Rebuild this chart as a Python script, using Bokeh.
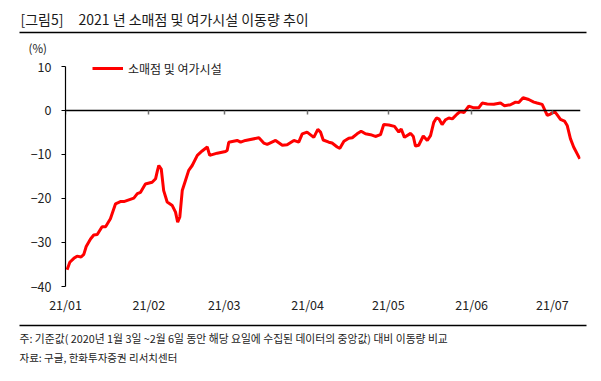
from bokeh.plotting import figure
from bokeh.models import FixedTicker, LinearAxis, Range1d
from bokeh.layouts import column
from bokeh.core.properties import value
from bokeh.embed import file_html
from bokeh.resources import INLINE

# Days since 2021-01-01 and mobility change vs baseline (%)
days = [0.6, 1.6, 3.1, 4.3, 5.8, 6.8, 7.7, 9.3, 10.5, 11.8, 13.6, 14.9, 16.7, 18.6, 20.4,
        21.7, 25.4, 26.7, 27.9, 29.7, 32.2, 33.5, 34.2, 34.7, 35.6, 36.5, 37.8, 39.7, 40.9,
        41.7, 42.5, 43.4, 44.6, 45.8, 47.1, 49.0, 50.8, 52.7, 53.6, 56.4, 59.5, 60.1, 60.7,
        63.8, 65.1, 66.9, 71.9, 73.7, 75.0, 78.1, 80.6, 82.4, 84.9, 86.7, 88.0, 89.8, 92.3,
        93.8, 94.8, 95.8, 97.9, 99.1, 101.0, 102.0, 103.5, 105.3, 106.6, 108.4, 109.9, 111.5,
        113.4, 115.2, 117.1, 118.3, 120.2, 122.3, 123.9, 124.8, 126.0, 128.3, 129.3, 130.1,
        131.3, 133.0, 134.5, 135.7, 136.9, 137.9, 138.8, 140.0, 141.3, 142.5, 143.8, 145.6,
        146.8, 148.1, 149.9, 151.8, 153.6, 154.9, 156.8, 159.2, 161.7, 163.2, 165.4, 167.3,
        168.5, 170.1, 172.2, 174.1, 175.3, 177.2, 179.1, 180.3, 181.8, 182.8, 184.0, 185.5,
        186.5, 187.7, 188.9, 191.2]
values = [-36.2, -34.5, -33.6, -33.1, -33.3, -32.7, -30.9, -29.2, -28.3, -28.2, -26.4, -26.4,
          -24.6, -21.2, -20.7, -20.7, -19.9, -18.9, -18.6, -16.7, -16.3, -15.5, -13.6, -12.5,
          -13.3, -18.2, -20.8, -21.6, -23.1, -25.4, -24.2, -18.2, -15.9, -13.6, -12.5, -10.2,
          -9.2, -8.3, -10.2, -9.7, -9.3, -9.1, -7.2, -6.8, -7.2, -6.8, -6.2, -7.4, -7.7, -6.8,
          -7.9, -7.8, -6.8, -7.2, -5.3, -4.9, -6.1, -4.3, -4.9, -6.7, -7.2, -7.4, -8.3, -8.6,
          -7.0, -6.3, -6.2, -5.3, -4.7, -5.3, -5.5, -5.9, -5.5, -3.2, -3.3, -3.6, -4.9, -4.2,
          -6.1, -5.2, -5.9, -8.1, -7.9, -5.8, -6.8, -5.7, -2.7, -1.7, -1.9, -3.2, -2.1, -1.7,
          -1.9, -0.8, -0.2, -0.5, 1.0, 0.6, 0.6, 1.7, 1.5, 1.4, 1.7, 1.1, 1.3, 1.9, 1.8, 2.9,
          2.5, 1.9, 1.7, 1.4, -1.1, -0.8, -0.2, -1.0, -2.0, -2.4, -3.4, -6.4, -8.3, -11.0]

month_days = [0, 31, 59, 90, 120, 151, 181]
month_labels = ["21/01", "21/02", "21/03", "21/04", "21/05", "21/06", "21/07"]
y_ticks = [-40, -30, -20, -10, 0, 10]

series_name = "소매점 및 여가시설"
title_tag = "[그림5]"
title_text = "2021 년 소매점 및 여가시설 이동량 추이"
unit_text = "(%)"
note_text = "주: 기준값( 2020년 1월 3일 ~2월 6일 동안 해당 요일에 수집된 데이터의 중앙값) 대비 이동량 비교"
source_text = "자료: 구글, 한화투자증권 리서치센터"

FONT = "Noto Sans CJK KR"
TXT = "#222222"
W = 601
TOP_H = 57
BOT_H = 63
MAIN_H = 381 - TOP_H - BOT_H


def panel_fig(h):
    f = figure(width=W, height=h, output_backend="svg", toolbar_location=None,
               x_range=Range1d(0, W), y_range=Range1d(h, 0),
               x_axis_type=None, y_axis_type=None, frame_align=False,
               min_border_left=0, min_border_right=0, min_border_top=0, min_border_bottom=0)
    f.outline_line_color = None
    f.background_fill_color = "white"
    f.border_fill_color = "white"
    return f


# ---- top panel: title, rule, unit
top = panel_fig(TOP_H)
top.text(x=[20], y=[18], text=[title_tag], text_font=value(FONT), text_font_size=value("14px"),
         text_color="#1a1a1a", text_baseline="middle", text_align="left")
top.text(x=[78], y=[18], text=[title_text], text_font=value(FONT), text_font_size=value("14px"),
         text_color="#1a1a1a", text_baseline="middle", text_align="left")
top.segment(x0=[19], y0=[32], x1=[586], y1=[32], line_color="black", line_width=1.5)
top.text(x=[28], y=[47.5], text=[unit_text], text_font=value(FONT), text_font_size=value("11.5px"),
         text_color=TXT, text_baseline="middle", text_align="left")

# ---- main chart (frame: x 65..580, y from 57 down to 286 on the page)
p = figure(width=W, height=MAIN_H, output_backend="svg", toolbar_location=None,
           x_range=Range1d(0, 191.45), y_range=Range1d(-40, 12.045), frame_align=False,
           min_border_left=65, min_border_right=21, min_border_top=0, min_border_bottom=32)
p.outline_line_color = None
p.xgrid.visible = False
p.ygrid.visible = False
p.background_fill_color = "white"
p.border_fill_color = "white"

xa = p.xaxis[0]
xa.ticker = FixedTicker(ticks=month_days)
xa.major_label_overrides = {d: l for d, l in zip(month_days, month_labels)}
xa.axis_line_color = None
xa.major_tick_line_color = None
xa.minor_tick_line_color = None
xa.major_tick_out = 0
xa.major_tick_in = 0
xa.major_label_standoff = 8
xa.major_label_text_font = FONT
xa.major_label_text_font_size = "12.5px"
xa.major_label_text_color = TXT

za = LinearAxis(fixed_location=0, ticker=FixedTicker(ticks=month_days))
za.major_label_text_color = None
za.major_label_text_font_size = "0px"
za.major_label_standoff = 0
za.axis_line_color = "black"
za.axis_line_width = 1.5
za.major_tick_in = 0
za.major_tick_out = 4
za.major_tick_line_color = "#707070"
za.major_tick_line_width = 1.5
za.minor_tick_line_color = None
p.add_layout(za, "below")

ya = p.yaxis[0]
ya.ticker = FixedTicker(ticks=y_ticks)
ya.bounds = (-40, 10)
ya.axis_line_color = "black"
ya.axis_line_width = 1.2
ya.major_tick_out = 4
ya.major_tick_in = 0
ya.major_tick_line_color = "black"
ya.minor_tick_line_color = None
ya.major_label_standoff = 10
ya.major_label_text_font = FONT
ya.major_label_text_font_size = "12.5px"
ya.major_label_text_color = TXT

p.line(days, values, line_color="#FF0000", line_width=3, legend_label=series_name)

lg = p.legend[0]
lg.location = (27, 209.5)
lg.glyph_width = 31
lg.glyph_height = 14
lg.label_height = 14
lg.label_standoff = 5
lg.padding = 0
lg.margin = 0
lg.spacing = 0
lg.border_line_color = None
lg.background_fill_alpha = 0
lg.label_text_font = FONT
lg.label_text_font_size = "12px"
lg.label_text_color = TXT

# ---- bottom panel: rule and notes
bot = panel_fig(BOT_H)
bot.segment(x0=[19], y0=[7], x1=[586], y1=[7], line_color="black", line_width=1.5)
bot.text(x=[19], y=[19], text=[note_text], text_font=value(FONT), text_font_size=value("10.8px"),
         text_color=TXT, text_baseline="middle", text_align="left")
bot.text(x=[19], y=[39], text=[source_text], text_font=value(FONT), text_font_size=value("10.5px"),
         text_color=TXT, text_baseline="middle", text_align="left")

layout = column(top, p, bot, spacing=0)
open("out.html", "w").write(file_html(layout, INLINE))
